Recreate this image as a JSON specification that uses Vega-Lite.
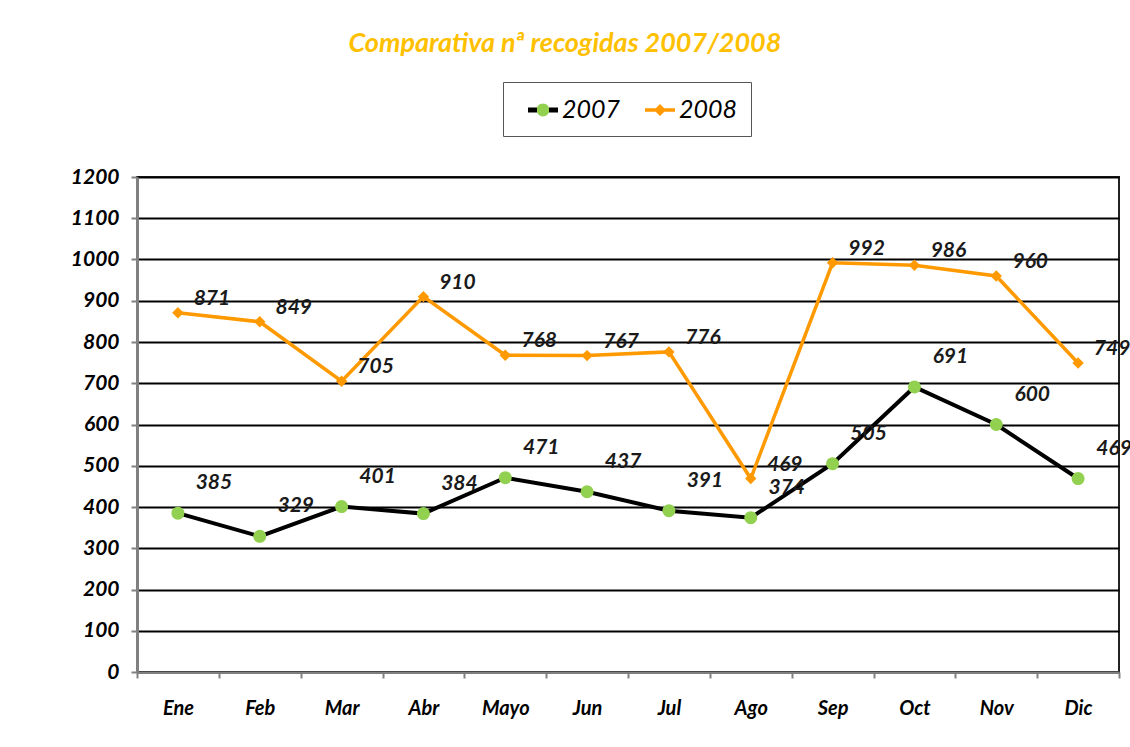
{
  "$schema": "https://vega.github.io/schema/vega-lite/v6.json",
  "width": 982,
  "height": 495,
  "autosize": {"type": "none"},
  "padding": {"left": 137, "top": 177, "right": 11, "bottom": 75},
  "background": "white",
  "title": {
    "text": "Comparativa nª recogidas 2007/2008",
    "anchor": "middle",
    "dx": -63,
    "offset": 24,
    "color": "#FFC000",
    "font": "Lato",
    "fontSize": 27,
    "fontStyle": "italic",
    "fontWeight": "bold"
  },
  "data": {
    "values": [
      {"mes": "Ene", "serie": "2007", "valor": 385},
      {"mes": "Feb", "serie": "2007", "valor": 329},
      {"mes": "Mar", "serie": "2007", "valor": 401},
      {"mes": "Abr", "serie": "2007", "valor": 384},
      {"mes": "Mayo", "serie": "2007", "valor": 471},
      {"mes": "Jun", "serie": "2007", "valor": 437},
      {"mes": "Jul", "serie": "2007", "valor": 391},
      {"mes": "Ago", "serie": "2007", "valor": 374},
      {"mes": "Sep", "serie": "2007", "valor": 505},
      {"mes": "Oct", "serie": "2007", "valor": 691},
      {"mes": "Nov", "serie": "2007", "valor": 600},
      {"mes": "Dic", "serie": "2007", "valor": 469},
      {"mes": "Ene", "serie": "2008", "valor": 871},
      {"mes": "Feb", "serie": "2008", "valor": 849},
      {"mes": "Mar", "serie": "2008", "valor": 705},
      {"mes": "Abr", "serie": "2008", "valor": 910},
      {"mes": "Mayo", "serie": "2008", "valor": 768},
      {"mes": "Jun", "serie": "2008", "valor": 767},
      {"mes": "Jul", "serie": "2008", "valor": 776},
      {"mes": "Ago", "serie": "2008", "valor": 469},
      {"mes": "Sep", "serie": "2008", "valor": 992},
      {"mes": "Oct", "serie": "2008", "valor": 986},
      {"mes": "Nov", "serie": "2008", "valor": 960},
      {"mes": "Dic", "serie": "2008", "valor": 749}
    ]
  },
  "encoding": {
    "x": {
      "field": "mes",
      "type": "nominal",
      "sort": ["Ene","Feb","Mar","Abr","Mayo","Jun","Jul","Ago","Sep","Oct","Nov","Dic"],
      "scale": {"type": "band", "paddingInner": 0, "paddingOuter": 0},
      "axis": {
        "title": null,
        "labelAngle": 0,
        "tickBand": "extent",
        "grid": false,
        "domainColor": "#808080",
        "domainWidth": 2,
        "tickColor": "#808080",
        "tickWidth": 2,
        "tickSize": 6,
        "labelPadding": 20,
        "labelFontSize": 20,
        "labelColor": "#000000"
      }
    },
    "y": {
      "field": "valor",
      "type": "quantitative",
      "scale": {"domain": [0, 1200], "nice": false},
      "axis": {
        "title": null,
        "values": [0,100,200,300,400,500,600,700,800,900,1000,1100,1200],
        "format": "d",
        "grid": true,
        "gridColor": "#000000",
        "gridWidth": 2,
        "domainColor": "#808080",
        "domainWidth": 3,
        "tickColor": "#808080",
        "tickWidth": 2,
        "tickSize": 6,
        "labelPadding": 12,
        "labelFontSize": 21,
        "labelColor": "#000000"
      }
    }
  },
  "layer": [
    {
      "transform": [{"filter": "datum.serie == '2007'"}],
      "mark": {"type": "line", "strokeWidth": 4},
      "encoding": {
        "color": {
          "field": "serie",
          "type": "nominal",
          "scale": {"domain": ["2007", "2008"], "range": ["#000000", "#FF9900"]},
          "legend": {
            "title": null,
            "orient": "none",
            "legendX": 366,
            "legendY": -95,
            "direction": "horizontal",
            "strokeColor": "#555555",
            "padding": 13,
            "symbolSize": 900,
            "symbolOffset": 12,
            "symbolStrokeWidth": 0,
            "labelOffset": 4,
            "labelFontSize": 25,
            "labelColor": "#000000",
            "columnPadding": 12,
            "encode": {
              "symbols": {
                "update": {
                  "shape": [
                    {"test": "datum.value === '2007'", "value": "M-1,-0.16H1V0.16H-1Z M0.43,0A0.43,0.43 0 1,1 -0.43,0A0.43,0.43 0 1,1 0.43,0Z"},
                    {"value": "M-1,-0.12H1V0.12H-1Z M0,-0.4L0.4,0L0,0.4L-0.4,0Z"}
                  ],
                  "fill": [
                    {"test": "datum.value === '2007'", "value": {"gradient": "linear", "x1": 0, "y1": 0, "x2": 1, "y2": 0, "stops": [
                      {"offset": 0, "color": "#000000"},
                      {"offset": 0.285, "color": "#000000"},
                      {"offset": 0.285, "color": "#92D050"},
                      {"offset": 0.715, "color": "#92D050"},
                      {"offset": 0.715, "color": "#000000"},
                      {"offset": 1, "color": "#000000"}
                    ]}},
                    {"value": "#FF9900"}
                  ],
                  "stroke": {"value": "transparent"},
                  "strokeWidth": {"value": 0},
                  "opacity": {"value": 1}
                }
              }
            }
          }
        }
      }
    },
    {
      "transform": [{"filter": "datum.serie == '2008'"}],
      "mark": {"type": "line", "strokeWidth": 3.5},
      "encoding": {
        "color": {"field": "serie", "type": "nominal"}
      }
    },
    {
      "transform": [{"filter": "datum.serie == '2007'"}],
      "mark": {"type": "point", "shape": "circle", "filled": true, "size": 170, "color": "#92D050", "opacity": 1, "strokeWidth": 0}
    },
    {
      "transform": [{"filter": "datum.serie == '2008'"}],
      "mark": {"type": "point", "shape": "diamond", "filled": true, "size": 130, "color": "#FF9900", "opacity": 1, "strokeWidth": 0}
    },
    {
      "transform": [{"filter": "datum.serie == '2007'"}],
      "mark": {"type": "text", "dx": 36, "dy": -30, "fontSize": 21, "fontStyle": "italic", "fontWeight": "bold", "font": "Lato", "color": "#1a1a1a"},
      "encoding": {"text": {"field": "valor", "type": "quantitative"}}
    },
    {
      "transform": [{"filter": "datum.serie == '2008'"}],
      "mark": {"type": "text", "dx": 34, "dy": -14, "fontSize": 21, "fontStyle": "italic", "fontWeight": "bold", "font": "Lato", "color": "#1a1a1a"},
      "encoding": {"text": {"field": "valor", "type": "quantitative"}}
    }
  ],
  "config": {
    "font": "Lato",
    "axis": {"labelFont": "Lato", "labelFontStyle": "italic", "labelFontWeight": "bold"},
    "legend": {"labelFont": "Lato", "labelFontStyle": "italic"},
    "view": {"stroke": "#222222", "strokeWidth": 2}
  }
}
